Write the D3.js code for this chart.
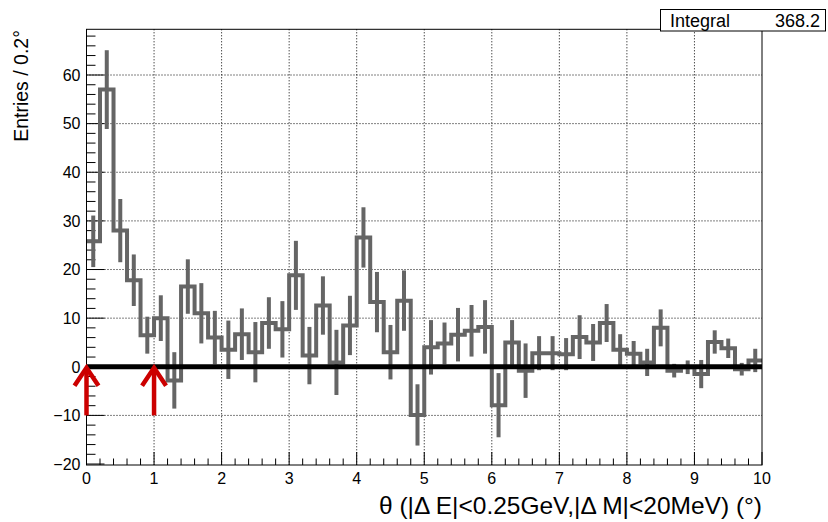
<!DOCTYPE html>
<html><head><meta charset="utf-8">
<script src="https://cdn.jsdelivr.net/npm/d3@7"></script>
<style>
html,body{margin:0;padding:0;background:#fff;}
svg text{font-family:"Liberation Sans",Arial,Helvetica,sans-serif;}
</style></head>
<body>
<svg id="c" width="828" height="522"></svg>
<script>
// bin lower edges are 0,0.2,...,9.8 (width 0.2)
const binWidth = 0.2;
const binValues = [25.8,57,28,17.8,6.5,10,-2.8,16.5,11,6,
  3.5,6.7,3,9,7.7,18.8,2.3,12.6,0.9,8.5,
  26.6,13.3,3,13.6,-9.9,4,4.8,6.6,7.4,8.2,
  -7.9,5,-0.8,2.8,2.8,2.6,6.1,5,9,3.5,
  2.7,0.9,8,-0.8,-0.1,-1.5,5.1,3.8,-0.5,1.3];
const binErrors = [5.3,8.1,6.5,5.3,3.8,4.7,5.8,5.6,6.2,5.5,
  6.0,5.3,6.2,5.3,5.8,7.1,5.9,6.0,6.7,6.1,
  6.2,6.2,5.6,6.2,6.3,5.6,4.3,5.5,5.3,5.5,
  6.6,4.6,5.6,3.5,3.5,3.3,4.5,3.8,3.9,3.2,
  2.6,2.8,3.8,1.4,1.4,2.9,2.4,2.0,1.3,2.4];
const xTicks = [0,1,2,3,4,5,6,7,8,9,10];
const yTicks = [-20,-10,0,10,20,30,40,50,60];
const arrowPositions = [0,1];
const arrowBottom = -10;
const integralLabel = "Integral";
const integralValue = "368.2";
const xTitle = "θ (|Δ E|<0.25GeV,|Δ M|<20MeV) (°)";
const yTitle = "Entries / 0.2°";

const svg = d3.select("#c");
const L = 86.5, R = 762, T = 29.3, B = 465;
const x = d3.scaleLinear().domain([0,10]).range([L,R]);
const y = d3.scaleLinear().domain([-20.2,69.4]).range([B,T]);

// grid
const g = svg.append("g");
g.selectAll(".gx").data(xTicks.filter(d=>d>0&&d<10)).enter().append("line")
  .attr("x1",d=>x(d)).attr("x2",d=>x(d)).attr("y1",T).attr("y2",B)
  .attr("stroke","#000").attr("stroke-width",1).attr("stroke-dasharray","1,2");
g.selectAll(".gy").data(yTicks.filter(d=>d>-20)).enter().append("line")
  .attr("x1",L).attr("x2",R).attr("y1",d=>y(d)).attr("y2",d=>y(d))
  .attr("stroke","#000").attr("stroke-width",1).attr("stroke-dasharray","1,2");

// axes ticks
const yMinor = d3.range(-20,69.4,2);
svg.selectAll(".ym").data(yMinor).enter().append("line")
  .attr("x1",L).attr("x2",d=>L+(d%10===0?18:9)).attr("y1",d=>y(d)).attr("y2",d=>y(d))
  .attr("stroke","#000").attr("stroke-width",1);
const xMinor = d3.range(0,50.5,1).map(i=>i*0.2);
svg.selectAll(".xm").data(xMinor).enter().append("line")
  .attr("x1",d=>x(d)).attr("x2",d=>x(d)).attr("y1",B).attr("y2",(d,i)=>B-(i%5===0?13:6.5))
  .attr("stroke","#000").attr("stroke-width",1);

// tick labels
svg.selectAll(".yl").data(yTicks).enter().append("text")
  .attr("x",L-6).attr("y",d=>y(d)).attr("dy","0.36em").attr("text-anchor","end")
  .attr("font-size",16).text(d=>d<0?"\u2212"+Math.abs(d):d);
svg.selectAll(".xl").data(xTicks).enter().append("text")
  .attr("x",d=>x(d)).attr("y",484).attr("text-anchor","middle")
  .attr("font-size",16).text(d=>d);

// titles
svg.append("text").attr("x",R).attr("y",514).attr("text-anchor","end")
  .attr("font-size",24.5).text(xTitle);
svg.append("text").attr("transform","translate(28,30) rotate(-90)")
  .attr("text-anchor","end").attr("font-size",19.5).text(yTitle);

// histogram step line
const pts = [];
binValues.forEach((v,i)=>{ pts.push([x(i*binWidth),y(v)]); pts.push([x((i+1)*binWidth),y(v)]); });
const col = "#656565";
svg.append("path").attr("d",d3.line()(pts)).attr("fill","none")
  .attr("stroke",col).attr("stroke-width",4).attr("stroke-linejoin","miter");
// error bars
svg.selectAll(".eb").data(binValues).enter().append("line")
  .attr("x1",(d,i)=>x((i+0.5)*binWidth)).attr("x2",(d,i)=>x((i+0.5)*binWidth))
  .attr("y1",(d,i)=>y(d-binErrors[i])).attr("y2",(d,i)=>y(d+binErrors[i]))
  .attr("stroke",col).attr("stroke-width",4);

// zero line
svg.append("line").attr("x1",x(0)).attr("x2",x(10)).attr("y1",y(0)).attr("y2",y(0))
  .attr("stroke","#000").attr("stroke-width",5);

// frame
svg.append("rect").attr("x",L).attr("y",T).attr("width",R-L).attr("height",B-T)
  .attr("fill","none").attr("stroke","#000").attr("stroke-width",1);

// red arrows
const red = "#cc0000";
arrowPositions.forEach(p=>{
  const ax = x(p), ay0 = y(0), ay1 = y(arrowBottom);
  svg.append("line").attr("x1",ax).attr("x2",ax).attr("y1",ay1).attr("y2",ay0+2)
    .attr("stroke",red).attr("stroke-width",4.5);
  svg.append("path").attr("d",d3.line()([[ax-12,ay0+19],[ax,ay0+1],[ax+12,ay0+19]]))
    .attr("fill","none").attr("stroke",red).attr("stroke-width",4.5).attr("stroke-linejoin","miter");
});

// stats box
svg.append("rect").attr("x",660.5).attr("y",9.5).attr("width",165).attr("height",21.5)
  .attr("fill","#fff").attr("stroke","#000").attr("stroke-width",1);
svg.append("text").attr("x",670).attr("y",26.5).attr("font-size",18).text(integralLabel);
svg.append("text").attr("x",820).attr("y",26.5).attr("text-anchor","end").attr("font-size",18).text(integralValue);
</script>
</body></html>
